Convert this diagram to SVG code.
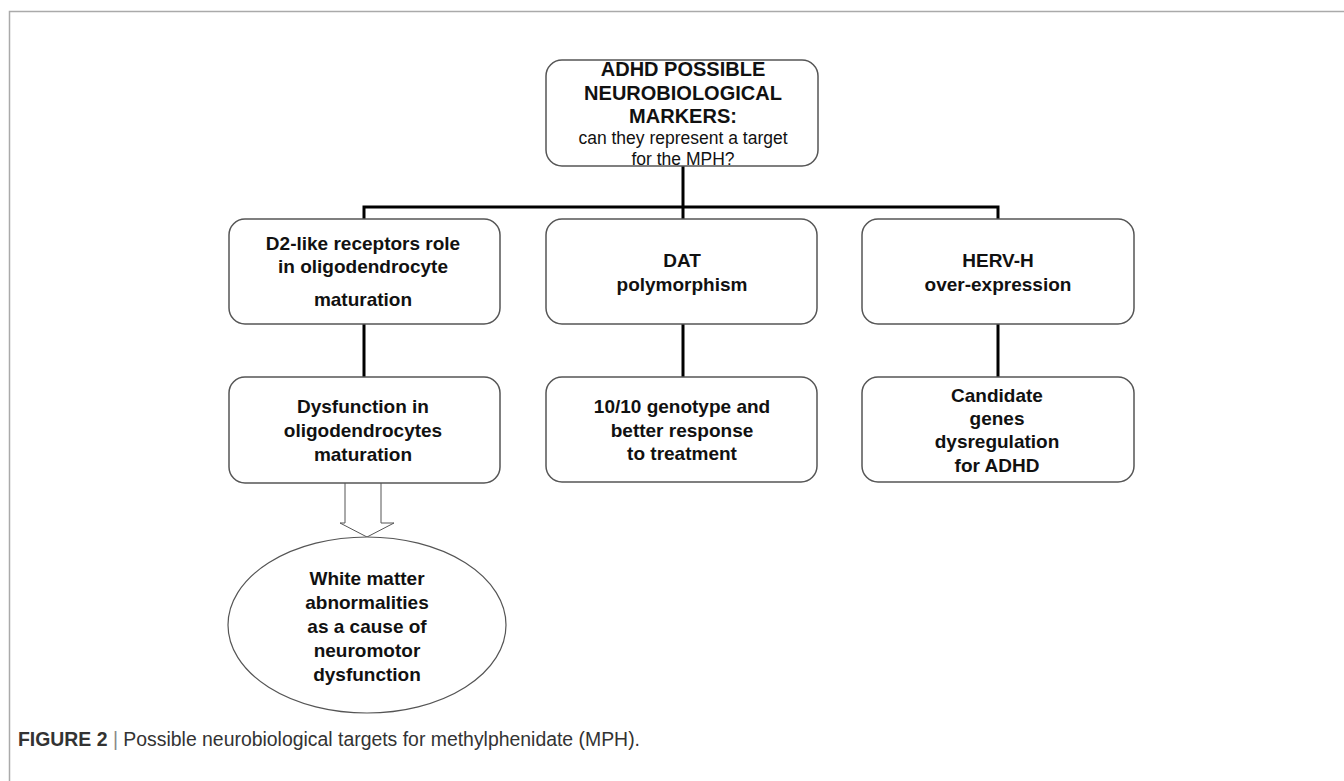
<svg xmlns="http://www.w3.org/2000/svg" width="1344" height="781" viewBox="0 0 1344 781">
<style>
.box{fill:#fff;stroke:#555;stroke-width:1.5}
.t{font-family:"Liberation Sans",Arial,sans-serif;font-size:19px;font-weight:bold;fill:#111;text-anchor:middle}
.h{font-size:20px}
.r{font-family:"Liberation Sans",Arial,sans-serif;font-size:17.5px;fill:#111;text-anchor:middle}
.c{stroke:#000;stroke-width:3;fill:none}
</style>
<rect width="1344" height="781" fill="#fff"/>
<path d="M9.5 781 V11.5 H1344" fill="none" stroke="#aaa" stroke-width="1.5"/>
<g id="connectors">
<path class="c" d="M683 166 V207 M364 219 V207 H998 V219 M683 207 V219"/>
<path class="c" d="M364 324 V377 M683 324 V377 M998 324 V377"/>
<path d="M345 483 V523 H340 L367 537 L394 523 H381 V483" fill="#fff" stroke="#555" stroke-width="1"/>
</g>
<g id="top">
<rect class="box" x="546" y="60" width="272" height="106" rx="16"/>
<text class="t h" x="683" y="76">ADHD POSSIBLE</text>
<text class="t h" x="683" y="100">NEUROBIOLOGICAL</text>
<text class="t h" x="683" y="123">MARKERS:</text>
<text class="r" x="683" y="144">can they represent a target</text>
<text class="r" x="683" y="165">for the MPH?</text>
</g>
<g id="d2">
<rect class="box" x="229" y="219" width="271" height="105" rx="16"/>
<text class="t" x="363" y="250">D2-like receptors role</text>
<text class="t" x="363" y="273">in oligodendrocyte</text>
<text class="t" x="363" y="306">maturation</text>
</g>
<g id="dat">
<rect class="box" x="546" y="219" width="271" height="105" rx="16"/>
<text class="t" x="682" y="267">DAT</text>
<text class="t" x="682" y="291">polymorphism</text>
</g>
<g id="herv">
<rect class="box" x="862" y="219" width="272" height="105" rx="16"/>
<text class="t" x="998" y="267">HERV-H</text>
<text class="t" x="998" y="291">over-expression</text>
</g>
<g id="dysfunction">
<rect class="box" x="229" y="377" width="271" height="106" rx="16"/>
<text class="t" x="363" y="413">Dysfunction in</text>
<text class="t" x="363" y="437">oligodendrocytes</text>
<text class="t" x="363" y="461">maturation</text>
</g>
<g id="genotype">
<rect class="box" x="546" y="377" width="271" height="105" rx="16"/>
<text class="t" x="682" y="413">10/10 genotype and</text>
<text class="t" x="682" y="437">better response</text>
<text class="t" x="682" y="460">to treatment</text>
</g>
<g id="candidate">
<rect class="box" x="862" y="377" width="272" height="105" rx="16"/>
<text class="t" x="997" y="402">Candidate</text>
<text class="t" x="997" y="425">genes</text>
<text class="t" x="997" y="448">dysregulation</text>
<text class="t" x="997" y="472">for ADHD</text>
</g>
<g id="whitematter">
<ellipse cx="367" cy="625" rx="139" ry="88" fill="#fff" stroke="#555" stroke-width="1.2"/>
<text class="t" x="367" y="585">White matter</text>
<text class="t" x="367" y="609">abnormalities</text>
<text class="t" x="367" y="633">as a cause of</text>
<text class="t" x="367" y="657">neuromotor</text>
<text class="t" x="367" y="681">dysfunction</text>
</g>
<text x="18" y="746" font-family="'Liberation Sans',Arial,sans-serif" font-size="19.5" fill="#333" textLength="622" lengthAdjust="spacingAndGlyphs"><tspan font-weight="bold">FIGURE 2</tspan><tspan fill="#888"> | </tspan><tspan>Possible neurobiological targets for methylphenidate (MPH).</tspan></text>
</svg>
